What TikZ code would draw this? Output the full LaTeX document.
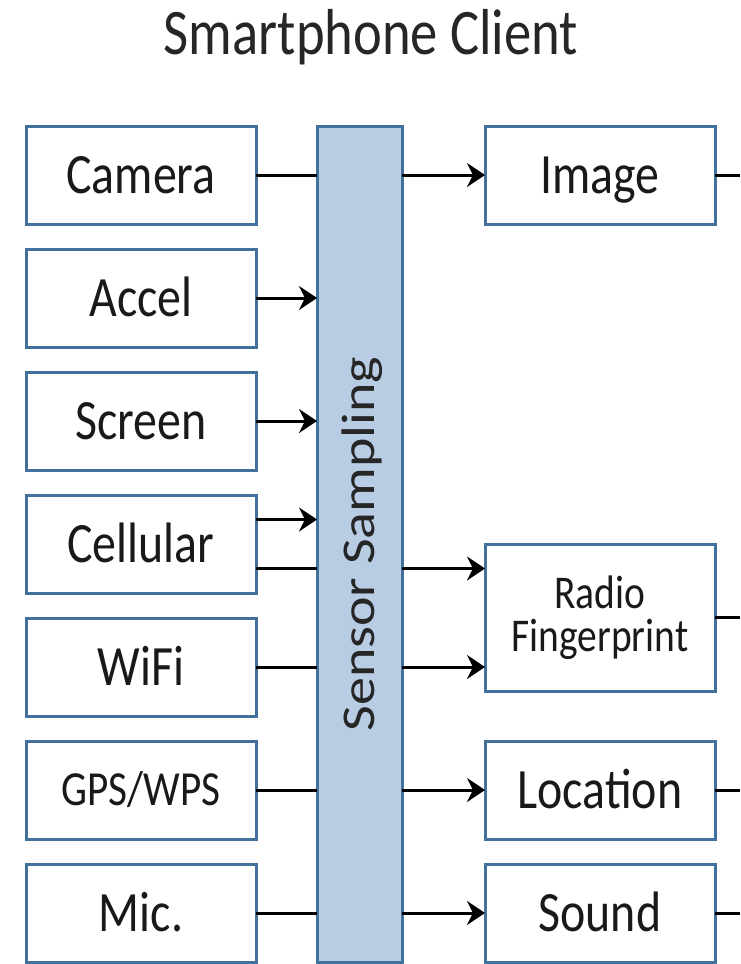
\documentclass[tikz,border=0pt]{standalone}
\usepackage{fontspec}
\setmainfont{Carlito}[FakeStretch=0.84]
\newfontfamily\barfont{Carlito}
\usetikzlibrary{
  arrows.meta,
  positioning
}
\definecolor{boxblue}{HTML}{41719C}
\definecolor{barblue}{HTML}{B8CCE4}
\tikzset{
%
  % For connectors.
  line/.style={
    line width=3pt},
%
  % For connectors that feed a box.
  feed/.style={
    line,
    -{Stealth[length=18pt,
              width=24pt,
              inset=6pt]}},
%
  % For boxes in general.
  box/.style={
    draw=boxblue,
    line width=3pt,
    fill=white,
    text=black!90,
    minimum width=230pt,
    minimum height=98pt,
    inner sep=0pt,
    outer sep=0pt,
    font=\fontsize{57}{60}\selectfont,
    text height=37pt,
    text depth=0pt},
%
  % For boxes with smaller text.
  small box/.style={
    box,
    font=\fontsize{49}{44}\selectfont,
    text height=31pt},
%
  % For the sampling bar.
  bar/.style={
    draw=boxblue,
    line width=3pt,
    fill=barblue,
    minimum width=85pt,
    minimum height=836pt,
    inner sep=0pt,
    outer sep=0pt}
}

\begin{document}
\begin{tikzpicture}[x=1pt, y=-1pt]
  \useasboundingbox (0,0) rectangle (740,964);

  \node[text=black!85, font=\fontsize{65}{70}\selectfont,
        text height=42pt, text depth=0pt] (title) at (371,33) {Smartphone Client};

  % sensors
  \node[box] (camera) at (141,175) {Camera};
  \node[box] (accel) [below=25pt of camera] {Accel};
  \node[box] (screen) [below=25pt of accel] {Screen};
  \node[box] (cellular) [below=25pt of screen] {Cellular};
  \node[box] (wifi) [below=25pt of cellular] {WiFi};
  \node[small box] (gps) [below=25pt of wifi] {GPS/WPS};
  \node[box] (mic) [below=25pt of gps] {Mic.};

  \node[bar, anchor=north west] (sampling) at ([xshift=61pt]camera.north east) {};
  \node[rotate=90, text=black!85, inner sep=0pt,
        text height=30pt, text depth=0pt] (label) at (sampling)
    {\barfont\fontsize{56}{60}\selectfont\scalebox{1}[0.84]{Sensor Sampling}};

  % outputs
  \node[box] (image) [right=229pt of camera] {Image};
  \node[box] (location) [right=229pt of gps] {Location};
  \node[box] (sound) [right=229pt of mic] {Sound};
  \node[box, minimum height=147pt, text height=, text depth=,
        align=center, font=\fontsize{47}{43}\selectfont] (radio)
    [above=50pt of location] {Radio\\Fingerprint};

  \coordinate (edge) at (740,0);

  \draw[line] (camera) -- (camera -| sampling.west);
  \draw[feed] (camera -| sampling.east) -- (image);
  \draw[feed] (accel) -- (accel -| sampling.west);
  \draw[feed] (screen) -- (screen -| sampling.west);
  \draw[feed] ([yshift=24.5pt]cellular.east) -- ([yshift=24.5pt]cellular.east -| sampling.west);
  \draw[line] ([yshift=-24.5pt]cellular.east) -- ([yshift=-24.5pt]cellular.east -| sampling.west);
  \draw[feed] ([yshift=-24.5pt]cellular.east -| sampling.east) -- ([yshift=-24.5pt]cellular.east -| radio.west);
  \draw[line] (wifi) -- (wifi -| sampling.west);
  \draw[feed] (wifi -| sampling.east) -- (wifi -| radio.west);
  \draw[line] (gps) -- (gps -| sampling.west);
  \draw[feed] (gps -| sampling.east) -- (location);
  \draw[line] (mic) -- (mic -| sampling.west);
  \draw[feed] (mic -| sampling.east) -- (sound);

  \draw[line] (image) -- (image -| edge);
  \draw[line] (radio) -- (radio -| edge);
  \draw[line] (location) -- (location -| edge);
  \draw[line] (sound) -- (sound -| edge);
\end{tikzpicture}
\end{document}
